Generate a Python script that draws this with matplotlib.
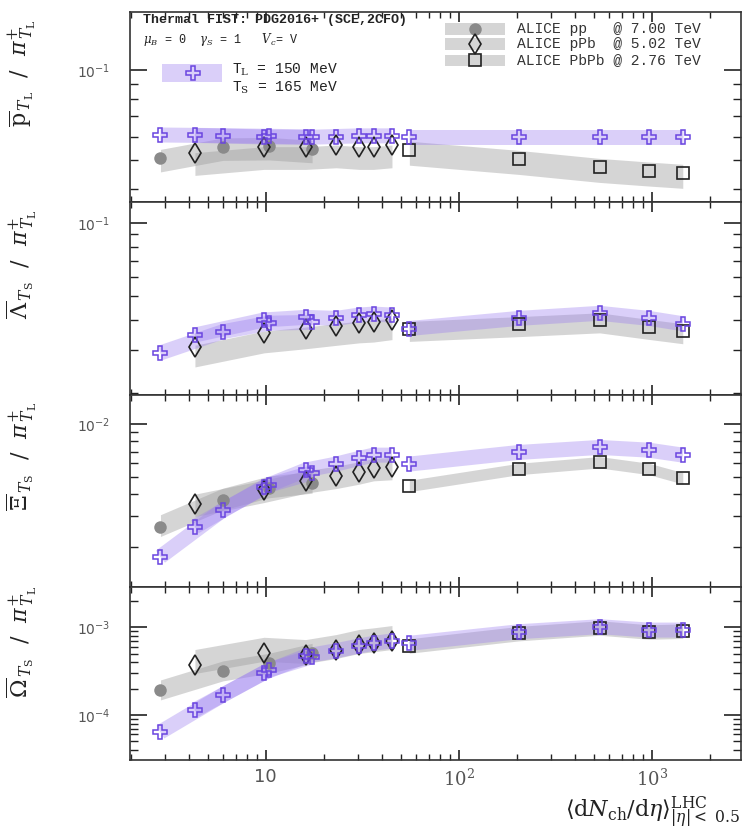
import matplotlib
matplotlib.use("Agg")
import matplotlib.pyplot as plt
from matplotlib.ticker import LogLocator, NullFormatter, FixedLocator, FixedFormatter
from matplotlib.patches import Rectangle

plt.rcParams['mathtext.fontset'] = 'dejavuserif'

# charged multiplicity <dNch/deta> of the ALICE classes
x_pp = [2.85, 6.0, 10.4, 17.4]
x_ppb = [4.3, 9.8, 16.1, 23.2, 30.5, 36.2, 45.1]
x_pbpb = [55.5, 205, 537, 966, 1448]

# pbar / pi+
p_data_pp = [0.0508, 0.0555, 0.0557, 0.0545]
p_data_ppb = [0.0530, 0.0555, 0.0555, 0.0562, 0.0555, 0.0555, 0.0562]
p_data_pbpb = [0.0541, 0.0504, 0.0474, 0.0461, 0.0453]
p_model_pp = [0.0607, 0.0604, 0.0601, 0.0598]
p_model_ppb = [0.0605, 0.0598, 0.0596, 0.0600, 0.0603, 0.0603, 0.0603]
p_model_pbpb = [0.0600, 0.0600, 0.0600, 0.0600, 0.0600]

# Lambdabar / pi+
l_data_pp = None
l_data_ppb = [0.0308, 0.0352, 0.0366, 0.0378, 0.0387, 0.0390, 0.0399]
l_data_pbpb = [0.0368, 0.0385, 0.0399, 0.0375, 0.0360]
l_model_pp = [0.0292, 0.0357, 0.0387, 0.0390]
l_model_ppb = [0.0346, 0.0399, 0.0409, 0.0405, 0.0418, 0.0422, 0.0418]
l_model_pbpb = [0.0368, 0.0405, 0.0425, 0.0405, 0.0385]

# Xibar / pi+
xi_data_pp = [0.00262, 0.00371, 0.00435, 0.00462]
xi_data_ppb = [0.00352, 0.00423, 0.00478, 0.00508, 0.00538, 0.00562, 0.00570]
xi_data_pbpb = [0.00446, 0.00557, 0.00608, 0.00557, 0.00493]
xi_model_pp = [0.00177, 0.00326, 0.00452, 0.00531]
xi_model_ppb = [0.00262, 0.00442, 0.00550, 0.00595, 0.00641, 0.00669, 0.00669]
xi_model_pbpb = [0.00595, 0.00693, 0.00740, 0.00714, 0.00669]

# Omegabar / pi+
om_data_pp = [1.93e-4, 3.18e-4, 3.89e-4, 5.05e-4]
om_data_ppb = [3.72e-4, 5.13e-4, 4.83e-4, 5.51e-4, 6.30e-4, 6.57e-4, 6.98e-4]
om_data_pbpb = [6.17e-4, 8.54e-4, 9.90e-4, 8.90e-4, 9.10e-4]
om_model_pp = [6.4e-5, 1.69e-4, 3.26e-4, 4.62e-4]
om_model_ppb = [1.14e-4, 3.03e-4, 4.70e-4, 5.41e-4, 6.12e-4, 6.57e-4, 6.98e-4]
om_model_pbpb = [6.57e-4, 8.90e-4, 1.016e-3, 9.30e-4, 9.30e-4]

# relative size of the grey uncertainty bands (low, high) for pp, pPb, PbPb
p_bands = [(0.90, 1.07), (0.84, 1.00), (0.89, 1.07)]
l_bands = [(0.90, 1.07), (0.83, 1.02), (0.885, 1.07)]
xi_bands = [(0.88, 1.17), (0.85, 1.14), (0.93, 1.08)]
om_bands = [(0.77, 1.30), (0.80, 1.50), (0.82, 1.20)]

ylabels = [r'$\overline{\mathrm{p}}_{\,T_\mathrm{L}}\ \ /\ \ \pi^{+}_{\,T_\mathrm{L}}$',
           r'$\overline{\Lambda}_{\,T_\mathrm{S}}\ \ /\ \ \pi^{+}_{\,T_\mathrm{L}}$',
           r'$\overline{\Xi}_{\,T_\mathrm{S}}\ \ /\ \ \pi^{+}_{\,T_\mathrm{L}}$',
           r'$\overline{\Omega}_{\,T_\mathrm{S}}\ \ /\ \ \pi^{+}_{\,T_\mathrm{L}}$']
ylims = [(0.0363, 0.156), (0.0196, 0.122), (0.00119, 0.0147), (3.07e-5, 2.88e-3)]

panels = [
    (p_data_pp, p_data_ppb, p_data_pbpb, p_model_pp, p_model_ppb, p_model_pbpb, p_bands),
    (l_data_pp, l_data_ppb, l_data_pbpb, l_model_pp, l_model_ppb, l_model_pbpb, l_bands),
    (xi_data_pp, xi_data_ppb, xi_data_pbpb, xi_model_pp, xi_model_ppb, xi_model_pbpb, xi_bands),
    (om_data_pp, om_data_ppb, om_data_pbpb, om_model_pp, om_model_ppb, om_model_pbpb, om_bands),
]

purple = '#9a7cf0'
cross_col = '#6a45e0'
grey_band = '#9c9c9c'
tick_col = '#555555'

fig = plt.figure(figsize=(7.44, 8.32), dpi=100)
W, H = 744.0, 832.0
left, right = 129.5, 741.0
rows = [(12, 202), (202, 395), (395, 587), (587, 760)]

axes = []
for i, (top, bot) in enumerate(rows):
    ax = fig.add_axes([left / W, 1 - bot / H, (right - left) / W, (bot - top) / H])
    axes.append(ax)
    d_pp, d_ppb, d_pbpb, m_pp, m_ppb, m_pbpb, bands = panels[i]
    ax.set_xscale('log')
    ax.set_yscale('log')

    # grey data bands
    for xs, ys, (lo, hi) in zip([x_pp, x_ppb, x_pbpb], [d_pp, d_ppb, d_pbpb], bands):
        if ys is None:
            continue
        ax.fill_between(xs, [v * lo for v in ys], [v * hi for v in ys],
                        color=grey_band, alpha=0.42, lw=0, zorder=1)
    # purple model bands
    for xs, ys in zip([x_pp, x_ppb, x_pbpb], [m_pp, m_ppb, m_pbpb]):
        ax.plot(xs, ys, color=purple, alpha=0.36, lw=10.8,
                solid_capstyle='butt', zorder=2)

    if d_pp is not None:
        ax.plot(x_pp, d_pp, 'o', ms=9, color='#8a8a8a', mec='none', zorder=3)
    ax.plot(x_ppb, d_ppb, 'd', ms=10, mfc='none', mec='#222222', mew=1.2, zorder=4)
    ax.plot(x_pbpb, d_pbpb, 's', ms=8.5, mfc='none', mec='#222222', mew=1.2, zorder=4)
    for xs, ys in zip([x_pp, x_ppb, x_pbpb], [m_pp, m_ppb, m_pbpb]):
        ax.plot(xs, ys, 'P', ms=9.5, mfc='none', mec=cross_col, mew=1.1, zorder=5)

    ax.set_xlim(1.97, 2900)
    ax.set_ylim(*ylims[i])
    ax.yaxis.set_minor_formatter(NullFormatter())
    ax.yaxis.set_major_locator(LogLocator(base=10, numticks=10))
    ax.yaxis.set_minor_locator(LogLocator(base=10, subs=range(2, 10), numticks=20))
    ax.tick_params(which='both', direction='in', top=True, right=True,
                   colors='#222222', labelcolor=tick_col, labelsize=10)
    ax.tick_params(axis='y', which='major', length=12, width=1.2, pad=14)
    ax.tick_params(axis='y', which='minor', length=6, width=1.0)
    ax.tick_params(axis='x', which='major', length=7, width=1.2)
    ax.tick_params(axis='x', which='minor', length=4, width=1.0)
    for s in ax.spines.values():
        s.set_color('#333333')
        s.set_linewidth(1.2)
    ax.xaxis.set_major_locator(FixedLocator([10, 100, 1000]))
    ax.xaxis.set_minor_formatter(NullFormatter())
    if i < 3:
        ax.xaxis.set_major_formatter(NullFormatter())
    else:
        ax.xaxis.set_major_formatter(FixedFormatter(['10', r'$10^2$', r'$10^3$']))
        ax.tick_params(axis='x', which='major', labelsize=13, pad=6)
    ax.set_ylabel(ylabels[i], fontsize=16, color='#222222')
    ax.yaxis.set_label_coords(-0.148, 0.68)

# annotations of the top panel
ax = axes[0]
mono = 'Liberation Mono'
ax.text(0.022, 0.958, 'Thermal FIST: PDG2016+ (SCE,2CFO)', transform=ax.transAxes,
        fontsize=9.6, fontweight='bold', family=mono, va='center', color='#222222')
ax.text(0.022, 0.853, r'$\mu_B$ = 0  $\gamma_S$ = 1   $V_c$= V', transform=ax.transAxes,
        fontsize=8.5, family=mono, va='center', color='#222222')
ax.add_patch(Rectangle((0.053, 0.632), 0.098, 0.094, transform=ax.transAxes,
                       color=purple, alpha=0.36, lw=0))
ax.plot([0.104], [0.679], 'P', ms=9.5, mfc='none', mec=cross_col, mew=1.1,
        transform=ax.transAxes)
ax.text(0.168, 0.695, r'T$_\mathrm{L}$ = 150 MeV', transform=ax.transAxes,
        fontsize=10.5, family=mono, va='center', color='#222222')
ax.text(0.168, 0.600, r'T$_\mathrm{S}$ = 165 MeV', transform=ax.transAxes,
        fontsize=10.5, family=mono, va='center', color='#222222')

leg_rows = [0.9105, 0.8316, 0.747]
leg_text = ['ALICE pp   @ 7.00 TeV', 'ALICE pPb  @ 5.02 TeV', 'ALICE PbPb @ 2.76 TeV']
for yy, txt in zip(leg_rows, leg_text):
    ax.add_patch(Rectangle((0.516, yy - 0.029), 0.098, 0.058, transform=ax.transAxes,
                           color=grey_band, alpha=0.42, lw=0))
    ax.text(0.634, yy, txt, transform=ax.transAxes, fontsize=10.5, family=mono,
            va='center', color='#333333')
ax.plot([0.565], [leg_rows[0]], 'o', ms=9, color='#8a8a8a', mec='none', transform=ax.transAxes)
ax.plot([0.565], [leg_rows[1]], 'd', ms=10, mfc='none', mec='#222222', mew=1.2,
        transform=ax.transAxes)
ax.plot([0.565], [leg_rows[2]], 's', ms=8.5, mfc='none', mec='#222222', mew=1.2,
        transform=ax.transAxes)

fig.text(0.995, 0.002,
         r'$\langle \mathrm{d}N_{\mathrm{ch}}/\mathrm{d}\eta \rangle^{\mathrm{LHC}}_{|\eta|<\ 0.5}$',
         fontsize=16, ha='right', va='bottom', color='#222222')

fig.savefig('out.png', dpi=100)
